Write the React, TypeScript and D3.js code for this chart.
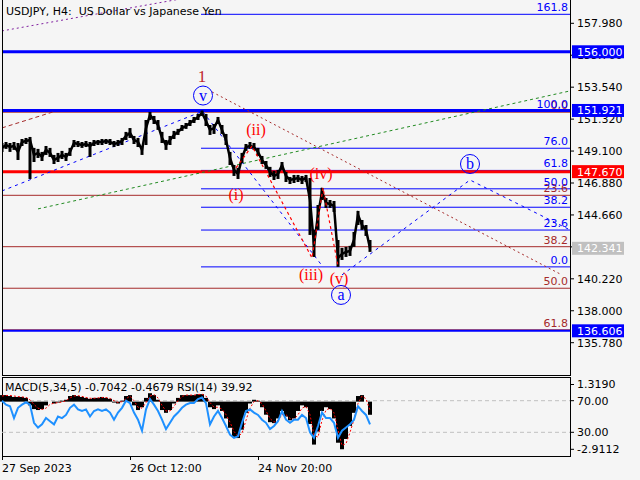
import * as d3 from 'd3'

// H4 bars sampled every 4 bars, starting 27 Sep 2023
const BAR_STEP = 4

const closes = [
  149.32, 149.52, 149.38, 149.45, 149.04, 149.73, 149.8, 149.87, 148.83, 148.97,
  148.69, 149.18, 148.97, 148.48, 148.62, 148.83, 148.69, 149.04, 149.66, 149.59,
  149.52, 149.59, 149.45, 149.66, 149.73, 149.73, 149.8, 149.73, 149.59, 149.66,
  149.8, 150.15, 150.36, 149.87, 149.73, 149.18, 150.7, 151.61, 151.26, 150.91,
  150.01, 149.52, 149.87, 150.22, 150.43, 150.7, 150.84, 151.05, 151.26, 151.47,
  151.75, 151.19, 150.57, 150.7, 151.26, 150.57, 149.87, 148.62, 147.79, 147.51,
  148.62, 149.38, 149.45, 149.38, 149.04, 148.48, 148.13, 147.65, 147.37, 147.51,
  148.13, 147.37, 147.09, 147.16, 147.23, 147.09, 147.23, 145.7, 142.57, 144.66,
  146.26, 145.49, 145.42, 145.28, 141.67, 141.95, 142.09, 142.16, 142.92, 144.66,
  143.96, 143.62, 142.34,
]

const highs = [
  149.66, 149.73, 149.66, 149.73, 149.66, 149.94, 150.01, 150.08, 149.32, 149.25,
  149.04, 149.45, 149.32, 148.83, 148.97, 149.11, 148.97, 149.32, 149.87, 149.8,
  149.73, 149.8, 149.73, 149.87, 149.87, 149.94, 149.94, 149.94, 149.8, 149.87,
  150.01, 150.43, 150.7, 150.15, 150.01, 149.45, 151.26, 151.82, 151.54, 151.26,
  150.43, 149.87, 150.15, 150.5, 150.64, 150.91, 151.05, 151.26, 151.47, 151.68,
  151.92, 151.68, 150.91, 150.98, 151.47, 150.91, 150.29, 149.04, 148.13, 147.93,
  148.97, 149.59, 149.73, 149.66, 149.32, 148.76, 148.41, 148.0, 147.72, 147.79,
  148.34, 147.65, 147.3, 147.44, 147.44, 147.37, 147.44, 147.23, 143.62, 145.35,
  146.54, 145.84, 145.7, 145.63, 142.92, 142.37, 142.44, 142.51, 143.48, 144.94,
  144.31, 143.96, 142.92,
]

const lows = [
  149.04, 149.25, 149.04, 149.18, 148.48, 149.45, 149.59, 147.16, 148.34, 148.62,
  148.41, 148.83, 148.69, 148.2, 148.34, 148.55, 148.41, 148.76, 149.38, 149.38,
  149.32, 149.38, 148.69, 149.45, 149.52, 149.52, 149.59, 149.52, 149.38, 149.45,
  149.52, 149.87, 150.01, 149.59, 149.38, 148.83, 149.52, 151.26, 150.98, 150.57,
  149.66, 149.18, 149.52, 149.94, 150.22, 150.5, 150.64, 150.84, 151.05, 151.26,
  151.54, 150.84, 150.22, 150.29, 150.98, 150.29, 149.52, 148.13, 147.37, 147.16,
  148.27, 149.11, 149.25, 149.18, 148.76, 148.2, 147.86, 147.3, 147.09, 147.16,
  147.79, 146.95, 146.81, 146.88, 146.95, 146.81, 146.95, 143.27, 141.74, 143.62,
  145.7, 145.15, 145.15, 144.87, 141.05, 141.53, 141.74, 141.81, 142.44, 143.96,
  143.62, 143.2, 142.09,
]

const macdHist = [
  0.35, 0.35, 0.3, 0.25, 0.25, 0.25, 0.2, -0.2, -0.4, -0.45,
  -0.4, -0.2, 0.0, -0.1, -0.05, 0.05, 0.1, 0.3, 0.35, 0.3,
  0.25, 0.2, 0.15, 0.2, 0.2, 0.25, 0.2, 0.15, -0.05, -0.1,
  0.05, 0.3, 0.35, -0.2, -0.45, -0.3, 0.2, 0.45, 0.35, 0.1,
  -0.45, -0.6, -0.45, -0.1, 0.2, 0.35, 0.35, 0.35, 0.35, 0.4,
  0.4, 0.2, -0.3, -0.4, -0.2, -0.5, -0.9, -1.4, -1.9, -1.95,
  -1.5, -0.6, -0.1, 0.1, 0.05, -0.3, -0.7, -1.1, -1.15, -0.9,
  -0.5, -0.8, -1.0, -0.9, -0.5, -0.2, -0.3, -1.2, -2.3, -1.6,
  -0.5, -0.3, -0.4, -0.9, -2.2, -2.55, -2.0, -1.3, -0.6, 0.3,
  0.35, 0.0, -0.7042,
]

const macdSignal = [
  0.3, 0.33, 0.33, 0.3, 0.27, 0.25, 0.23, 0.1, -0.15, -0.35,
  -0.42, -0.35, -0.15, -0.08, -0.06, -0.02, 0.05, 0.2, 0.3, 0.32,
  0.28, 0.22, 0.18, 0.18, 0.2, 0.22, 0.22, 0.17, 0.05, -0.05,
  0.0, 0.15, 0.3, 0.05, -0.3, -0.35, -0.05, 0.3, 0.38, 0.2,
  -0.2, -0.5, -0.5, -0.25, 0.05, 0.28, 0.35, 0.35, 0.35, 0.38,
  0.4, 0.3, -0.05, -0.3, -0.3, -0.4, -0.7, -1.1, -1.6, -1.85,
  -1.7, -1.0, -0.35, 0.0, 0.05, -0.1, -0.5, -0.9, -1.1, -1.0,
  -0.7, -0.7, -0.9, -0.95, -0.7, -0.35, -0.25, -0.7, -1.8, -1.9,
  -1.0, -0.45, -0.35, -0.6, -1.5, -2.35, -2.25, -1.65, -0.95, -0.1,
  0.3, 0.15, -0.4679,
]

const rsiValues = [
  70, 65, 63, 48, 61, 65, 68, 65, 42, 36,
  40, 48, 44, 40, 50, 48, 52, 61, 65, 59,
  57, 59, 50, 57, 59, 57, 59, 55, 46, 55,
  61, 70, 67, 55, 46, 32, 59, 72, 65, 57,
  46, 34, 42, 50, 55, 61, 65, 67, 67, 72,
  74, 67, 40, 50, 57, 48, 38, 27, 23, 25,
  42, 57, 59, 55, 52, 46, 42, 34, 38, 44,
  57, 46, 42, 46, 46, 52, 48, 30, 23, 38,
  55, 48, 48, 42, 23, 32, 36, 40, 46, 63,
  57, 52, 39.92,
]

const priceTicks = [157.98, 155.76, 153.54, 151.32, 149.1, 146.88, 144.66, 142.44, 140.22, 138.0, 135.78]
const dateTickBars = [0, 128, 256]
const dateTickLabels = ['27 Sep 2023', '26 Oct 12:00', '24 Nov 20:00']

// horizontal support / resistance levels with price tags
const levelPrices = [156.0, 151.921, 147.67, 136.606]
const levelKinds = ['blue', 'blue', 'red', 'blue']
const lastPrice = 142.341

// Fibonacci expansion (blue), drawn from the wave-1 top onward
const blueFibLevels = [0, 23.6, 38.2, 50, 61.8, 76, 100, 161.8]
const blueFibZero = 141.05
const blueFibHundred = 151.9
const blueFibStartBar = 199

// Fibonacci retracement (brown)
const brownFibLevels = [0, 23.6, 38.2, 50, 61.8]
const brownFibZero = 151.8
const brownFibHundred = 127.33

// Elliott wave marks
const waveLabels = ['1', 'v', '(i)', '(ii)', '(iii)', '(iv)', '(v)', 'a', 'b']
const waveLabelBars = [200, 201, 234, 254, 309, 319, 337, 339, 468]
const waveLabelPrices = [154.3, 152.96, 146.05, 150.57, 140.49, 147.51, 140.21, 139.1, 148.2]

const waveBars = [234, 250, 310, 321, 336]
const wavePrices = [147.93, 149.45, 141.67, 146.54, 141.12]

const trendBars = [0, 199]
const trendPrices = [146.33, 151.82]
const vToABars = [201, 321]
const vToAPrices = [151.82, 141.05]
const abBars = [340, 468, 568]
const abPrices = [140.49, 147.09, 143.62]
const channelBars = [210, 558]
const channelPrices = [153.21, 140.56]
const shortBars = [0, 51]
const shortPrices = [150.71, 151.82]
const purpleBars = [0, 200]
const purplePrices = [157.45, 159.94]
const greenBars = [36, 568]
const greenPrices = [145.08, 153.28]

const FONT = "'DejaVu Sans', sans-serif"
const BG = '#f5f5f5'
const BLUE = '#0000ff'
const RED = '#ff0000'
const BROWN = '#a52a2a'

const LEFT = 2
const RIGHT = 570
const MAIN_BOTTOM = 375
const SUB_TOP = 377
const SUB_BOTTOM = 456

export default function App() {
  const x = d3.scaleLinear().domain([0, 568]).range([LEFT, RIGHT])
  const y = d3.scaleLinear().domain([135.78, 157.98]).range([342.7, 23.3])
  const rsiY = d3.scaleLinear().domain([0, 100]).range([SUB_BOTTOM, SUB_TOP])
  const macdY = d3.scaleLinear().domain([-2.9112, 1.319]).range([SUB_BOTTOM, SUB_TOP])

  const idxX = (i: number) => x(i * BAR_STEP)
  const line2 = (bars: number[], prices: number[]) =>
    d3.line<number>().x((_, i) => x(bars[i])).y((p) => y(p))(prices) ?? ''

  const closePath = d3.line<number>().x((_, i) => idxX(i)).y((p) => y(p))(closes) ?? ''
  const rsiPath = d3.line<number>().x((_, i) => idxX(i)).y((v) => rsiY(v))(rsiValues) ?? ''
  const signalPath = d3.line<number>().x((_, i) => idxX(i)).y((v) => macdY(v))(macdSignal) ?? ''

  const fibPrice = (z: number, h: number, lvl: number) => z + ((h - z) * lvl) / 100

  const tag = (price: number, fill: string, key: string) => (
    <g key={key}>
      <rect x={572} y={y(price) - 6.5} width={52} height={13} fill={fill} />
      <text x={577} y={y(price)} dy="0.36em" fill="#fff" fontSize={11} fontFamily={FONT}>
        {price.toFixed(3)}
      </text>
    </g>
  )

  return (
    <div style={{ position: 'absolute', left: 0, top: 0 }}>
      <svg width={640} height={480} style={{ display: 'block', background: BG }}>
        <defs>
          <clipPath id="main-clip">
            <rect x={LEFT} y={0} width={RIGHT - LEFT} height={MAIN_BOTTOM} />
          </clipPath>
        </defs>

        <g clipPath="url(#main-clip)">
          {/* brown retracement levels */}
          {brownFibLevels.map((lvl) => {
            const py = y(fibPrice(brownFibZero, brownFibHundred, lvl))
            return <line key={'bf' + lvl} x1={LEFT} x2={RIGHT} y1={py} y2={py} stroke={BROWN} strokeWidth={1} />
          })}
          {/* blue expansion levels */}
          {blueFibLevels.map((lvl) => {
            const py = y(fibPrice(blueFibZero, blueFibHundred, lvl))
            return (
              <line key={'uf' + lvl} x1={x(blueFibStartBar)} x2={RIGHT} y1={py} y2={py} stroke={BLUE} strokeWidth={1} />
            )
          })}
          {/* support / resistance */}
          {levelPrices.map((p, i) => (
            <line
              key={'lv' + i}
              x1={LEFT}
              x2={RIGHT}
              y1={y(p)}
              y2={y(p)}
              stroke={levelKinds[i] === 'red' ? RED : BLUE}
              strokeWidth={i === 3 ? 2 : 3}
            />
          ))}

          {/* trend lines */}
          <path d={line2(purpleBars, purplePrices)} stroke="#8020a0" strokeWidth={1} strokeDasharray="2,3" fill="none" />
          <path d={line2(greenBars, greenPrices)} stroke="#228b22" strokeWidth={1} strokeDasharray="3,3" fill="none" />
          <path d={line2(shortBars, shortPrices)} stroke={BROWN} strokeWidth={1} strokeDasharray="4,3" fill="none" />
          <path d={line2(channelBars, channelPrices)} stroke={BROWN} strokeWidth={1} strokeDasharray="2,3" fill="none" />
          <path d={line2(trendBars, trendPrices)} stroke={BLUE} strokeWidth={1} strokeDasharray="3,4" fill="none" />
          <path d={line2(vToABars, vToAPrices)} stroke={BLUE} strokeWidth={1} strokeDasharray="3,4" fill="none" />
          <path d={line2(abBars, abPrices)} stroke={BLUE} strokeWidth={1} strokeDasharray="3,4" fill="none" />

          {/* price bars */}
          {closes.map((_, i) => (
            <line
              key={'hl' + i}
              x1={idxX(i)}
              x2={idxX(i)}
              y1={y(highs[i])}
              y2={y(lows[i])}
              stroke="#000"
              strokeWidth={3}
            />
          ))}
          <path d={closePath} stroke="#000" strokeWidth={2.5} fill="none" />

          {/* wave path */}
          <path d={line2(waveBars, wavePrices)} stroke={RED} strokeWidth={1.2} strokeDasharray="3,3" fill="none" />

          {/* level captions */}
          {brownFibLevels.map((lvl) => (
            <text
              key={'bft' + lvl}
              x={568}
              y={y(fibPrice(brownFibZero, brownFibHundred, lvl)) - 3}
              textAnchor="end"
              fill={BROWN}
              fontSize={11}
              fontFamily={FONT}
            >
              {lvl.toFixed(1)}
            </text>
          ))}
          {blueFibLevels.map((lvl) => (
            <text
              key={'uft' + lvl}
              x={568}
              y={y(fibPrice(blueFibZero, blueFibHundred, lvl)) - 3}
              textAnchor="end"
              fill={BLUE}
              fontSize={11}
              fontFamily={FONT}
            >
              {lvl.toFixed(1)}
            </text>
          ))}

          {/* wave labels */}
          {waveLabels.map((t, i) => {
            const cx = x(waveLabelBars[i])
            const cy = y(waveLabelPrices[i])
            const circled = t === 'v' || t === 'a' || t === 'b'
            const color = circled ? BLUE : t === '1' ? '#c0282d' : RED
            return (
              <g key={'w' + i}>
                {circled && <circle cx={cx} cy={cy} r={9.5} fill="none" stroke={BLUE} strokeWidth={1} />}
                <text
                  x={cx}
                  y={cy}
                  dy="0.33em"
                  textAnchor="middle"
                  fill={color}
                  fontSize={t === '1' ? 17 : 16}
                  fontFamily="'Liberation Serif', serif"
                >
                  {t}
                </text>
              </g>
            )
          })}
        </g>

        <text x={6} y={15} fontSize={11} fontFamily={FONT} fill="#000" style={{ whiteSpace: 'pre' }}>
          {'USDJPY, H4:  US Dollar vs Japanese Yen'}
        </text>

        {/* main panel frame */}
        <line x1={LEFT + 0.5} x2={LEFT + 0.5} y1={0} y2={MAIN_BOTTOM} stroke="#000" />
        <line x1={RIGHT + 0.5} x2={RIGHT + 0.5} y1={0} y2={MAIN_BOTTOM} stroke="#000" />
        <line x1={LEFT} x2={RIGHT + 1} y1={MAIN_BOTTOM + 0.5} y2={MAIN_BOTTOM + 0.5} stroke="#000" />

        {/* price axis */}
        {priceTicks.map((p) => (
          <g key={'pt' + p}>
            <line x1={RIGHT} x2={RIGHT + 4} y1={y(p)} y2={y(p)} stroke="#000" />
            <text x={577} y={y(p)} dy="0.36em" fontSize={11} fontFamily={FONT} fill="#000">
              {p.toFixed(3)}
            </text>
          </g>
        ))}
        {levelPrices.map((p, i) => tag(p, levelKinds[i] === 'red' ? RED : BLUE, 'tag' + i))}
        {tag(lastPrice, '#c0c0c0', 'last')}

        {/* indicator panel */}
        <rect x={LEFT + 0.5} y={SUB_TOP + 0.5} width={RIGHT - LEFT} height={SUB_BOTTOM - SUB_TOP} fill="none" stroke="#000" />
        {[70, 30].map((v) => (
          <line
            key={'rl' + v}
            x1={LEFT}
            x2={RIGHT}
            y1={rsiY(v)}
            y2={rsiY(v)}
            stroke="#c0c0c0"
            strokeDasharray="4,3"
          />
        ))}
        {macdHist.map((v, i) => (
          <rect
            key={'mh' + i}
            x={idxX(i) - 2}
            y={Math.min(macdY(v), macdY(0))}
            width={4}
            height={Math.abs(macdY(v) - macdY(0))}
            fill="#000"
          />
        ))}
        <path d={signalPath} stroke={RED} strokeWidth={1} strokeDasharray="2,2" fill="none" />
        <path d={rsiPath} stroke="#1e90ff" strokeWidth={2} fill="none" />
        <text x={5} y={391} fontSize={11} fontFamily={FONT} fill="#000">
          MACD(5,34,5) -0.7042 -0.4679 RSI(14) 39.92
        </text>

        {[
          { v: '1.3190', py: macdY(1.319) + 7.5 },
          { v: '70.00', py: rsiY(70) },
          { v: '30.00', py: rsiY(30) },
          { v: '-2.9112', py: macdY(-2.9112) - 6.7 },
        ].map((t) => (
          <g key={'st' + t.v}>
            <line x1={RIGHT} x2={RIGHT + 4} y1={t.py} y2={t.py} stroke="#000" />
            <text x={577} y={t.py} dy="0.36em" fontSize={11} fontFamily={FONT} fill="#000">
              {t.v}
            </text>
          </g>
        ))}

        {/* time axis */}
        {dateTickBars.map((b, i) => (
          <g key={'dt' + b}>
            <line x1={x(b) + 0.5} x2={x(b) + 0.5} y1={SUB_BOTTOM} y2={SUB_BOTTOM + 4} stroke="#000" />
            <text x={x(b)} y={472} fontSize={11} fontFamily={FONT} fill="#000">
              {dateTickLabels[i]}
            </text>
          </g>
        ))}
      </svg>
    </div>
  )
}
